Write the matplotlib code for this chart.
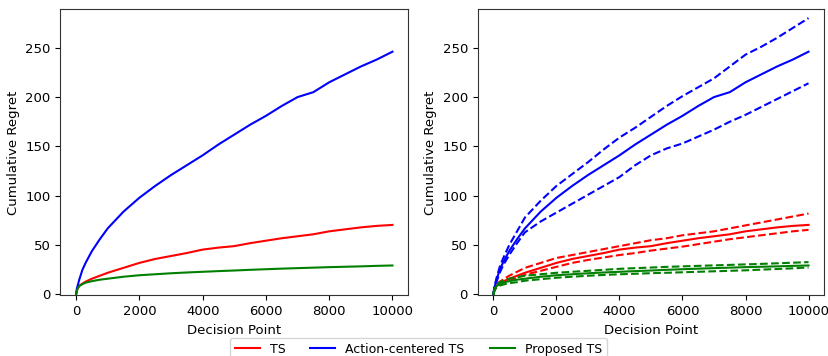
import matplotlib
matplotlib.use("Agg")
import matplotlib.pyplot as plt

x = [0, 25, 50, 100, 200, 300, 500, 750, 1000, 1500, 2000, 2500, 3000, 3500, 4000,
     4500, 5000, 5500, 6000, 6500, 7000, 7500, 8000, 8500, 9000, 9500, 10000]

ac_mean = [0, 6, 9, 15, 25, 32, 44, 56, 67, 84, 98, 110, 121, 131, 141, 152, 162,
           172, 181, 191, 200, 205, 215, 223, 231, 238, 246]
ac_upper = [0, 7, 10, 17, 28, 36, 50, 64, 78, 95, 110, 122, 134, 147, 159, 169, 180,
            191, 201, 210, 219, 231, 243, 251, 260, 270, 280]
ac_lower = [0, 5, 8, 13, 22, 29, 40, 52, 63, 74, 83, 92, 101, 110, 119, 131, 141,
            148, 153, 160, 167, 175, 182, 190, 198, 206, 214]

ts_mean = [0, 4, 6, 9, 11, 13, 16, 19, 22, 27, 32, 36, 39, 42, 45.5, 47.5, 49, 52,
           54.5, 57, 59, 61, 64, 66, 68, 69.5, 70.5]
ts_upper = [0, 5, 7, 10, 13, 15, 19, 23, 27, 32, 37, 40, 43, 46, 49, 52, 55, 57, 60,
            62, 64, 67, 70, 73, 76, 79, 82]
ts_lower = [0, 3, 5, 8, 10, 12, 14, 17, 20, 24, 28, 32, 35, 37.5, 40, 42, 44.5, 46.5,
            48.5, 51, 53.5, 56, 58, 60, 62, 64, 65.5]

pr_mean = [0, 4, 6, 8.5, 10.5, 12, 13.5, 15, 16, 18, 19.5, 20.5, 21.5, 22.3, 23, 23.7,
           24.3, 25, 25.6, 26.2, 26.7, 27.2, 27.7, 28.1, 28.5, 29, 29.4]
pr_upper = [0, 5, 7, 10, 12.5, 14, 16, 17.5, 19, 20.5, 22, 23, 24, 25, 26, 26.7, 27.3,
            28, 28.5, 29, 29.5, 30, 30.5, 31, 31.6, 32.2, 32.8]
pr_lower = [0, 3, 5, 7, 9, 10, 11.5, 12.5, 14, 15.5, 17, 18, 19, 19.8, 20.5, 21, 21.6,
            22, 22.5, 23, 23.5, 24, 24.5, 25.2, 25.8, 26.5, 27.4]

labels = ["TS", "Action-centered TS", "Proposed TS"]
colors = ["r", "b", "g"]
means = [ts_mean, ac_mean, pr_mean]
uppers = [ts_upper, ac_upper, pr_upper]
lowers = [ts_lower, ac_lower, pr_lower]

FS = 9

fig = plt.figure(figsize=(8.29, 3.56), dpi=100)
ax1 = fig.add_axes([0.0727, 0.170, 0.4198, 0.804])
ax2 = fig.add_axes([0.5762, 0.170, 0.4181, 0.804])

handles = []
for m, c, l in zip(means, colors, labels):
    h, = ax1.plot(x, m, color=c, label=l, lw=1.5)
    handles.append(h)

for m, u, lo, c in zip(means, uppers, lowers, colors):
    ax2.plot(x, m, color=c, lw=1.5)
    ax2.plot(x, u, color=c, lw=1.5, ls="--")
    ax2.plot(x, lo, color=c, lw=1.5, ls="--")

for ax in (ax1, ax2):
    ax.set_ylim(-1, 289)
    ax.set_xticks([0, 2000, 4000, 6000, 8000, 10000])
    ax.set_yticks([0, 50, 100, 150, 200, 250])
    ax.set_xlabel("Decision Point", fontsize=FS + 0.5)
    ax.set_ylabel("Cumulative Regret", fontsize=FS + 0.5)
    ax.tick_params(labelsize=FS + 0.5)
    for s in ax.spines.values():
        s.set_color("#333333")

fig.legend(handles=handles, labels=labels, loc="upper center", ncol=3,
           bbox_to_anchor=(0.5045, 0.051), borderaxespad=0, fontsize=FS)

fig.savefig("out.png", dpi=100)
